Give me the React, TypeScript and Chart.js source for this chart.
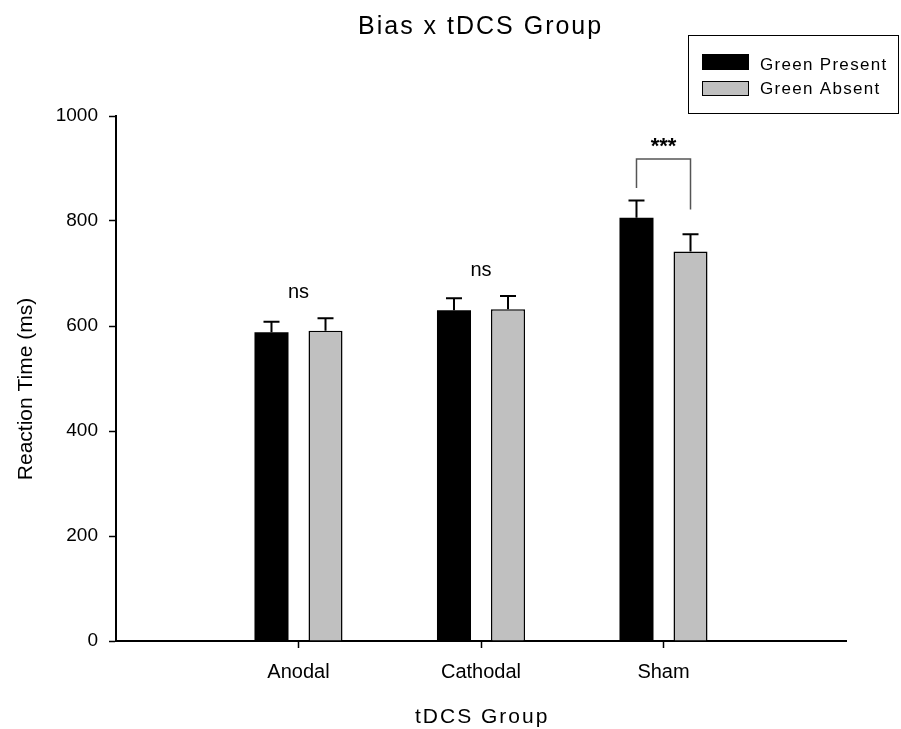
import React, { useEffect, useRef } from 'react';
import { Chart, registerables } from 'chart.js';

Chart.register(...registerables);

const categories = ['', 'Anodal', 'Cathodal', 'Sham', ''];
const seriesNames = ['Green Present', 'Green Absent'];
const greenPresent = [null, 588, 630, 806, null];
const greenAbsent = [null, 591, 632, 742, null];
const presentErr = [0, 20, 23, 33, 0];
const absentErr = [0, 24, 25, 33, 0];
const sigLabels = ['', 'ns', 'ns', '***', ''];
const sigLevels = [0, 653, 695, 930, 0];
const bracketIndex = 3;
const bracketLevels = [918, 863, 822]; // top, left foot, right foot

const FONT = '"Liberation Sans", Arial, sans-serif';
const BLACK = '#000000';
const GRAY = '#c0c0c0';

const overlay = {
  id: 'overlay',
  afterDatasetsDraw(chart: any) {
    const ctx = chart.ctx;
    const ys = chart.scales.y;
    const xs = chart.scales.x;
    const errs = [presentErr, absentErr];
    chart.data.datasets.forEach((ds: any, di: number) => {
      const meta = chart.getDatasetMeta(di);
      meta.data.forEach((el: any, i: number) => {
        const v = ds.data[i];
        if (v == null) return;
        const top = ys.getPixelForValue(v + errs[di][i]);
        ctx.save();
        ctx.strokeStyle = BLACK;
        ctx.lineWidth = 2;
        ctx.beginPath();
        ctx.moveTo(el.x, el.y);
        ctx.lineTo(el.x, top);
        ctx.moveTo(el.x - 8, top);
        ctx.lineTo(el.x + 8, top);
        ctx.stroke();
        ctx.restore();
      });
    });

    // bracket
    const lx = chart.getDatasetMeta(0).data[bracketIndex].x;
    const rx = chart.getDatasetMeta(1).data[bracketIndex].x;
    const by = ys.getPixelForValue(bracketLevels[0]);
    ctx.save();
    ctx.strokeStyle = '#555555';
    ctx.lineWidth = 1.5;
    ctx.beginPath();
    ctx.moveTo(lx, ys.getPixelForValue(bracketLevels[1]));
    ctx.lineTo(lx, by);
    ctx.lineTo(rx, by);
    ctx.lineTo(rx, ys.getPixelForValue(bracketLevels[2]));
    ctx.stroke();
    ctx.restore();

    // significance labels
    ctx.save();
    ctx.fillStyle = BLACK;
    ctx.textAlign = 'center';
    ctx.textBaseline = 'alphabetic';
    sigLabels.forEach((lab, i) => {
      if (!lab) return;
      ctx.font = (lab === '***' ? 'bold 22px ' : '20px ') + FONT;
      ctx.fillText(lab, xs.getPixelForValue(i), ys.getPixelForValue(sigLevels[i]));
    });
    ctx.restore();
  },
  afterDraw(chart: any) {
    const ctx = chart.ctx;
    ctx.save();
    ctx.fillStyle = BLACK;
    // title
    ctx.font = '25px ' + FONT;
    (ctx as any).letterSpacing = '2px';
    ctx.textAlign = 'left';
    ctx.textBaseline = 'alphabetic';
    ctx.fillText('Bias x tDCS Group', 358, 34);
    // x title
    ctx.font = '21px ' + FONT;
    (ctx as any).letterSpacing = '2px';
    ctx.fillText('tDCS Group', 415, 723);
    // y title
    (ctx as any).letterSpacing = '0px';
    ctx.save();
    ctx.translate(32, 389);
    ctx.rotate(-Math.PI / 2);
    ctx.textAlign = 'center';
    ctx.font = '21px ' + FONT;
    ctx.fillText('Reaction Time (ms)', 0, 0);
    ctx.restore();

    // legend
    ctx.strokeStyle = BLACK;
    ctx.lineWidth = 1;
    ctx.strokeRect(688.5, 35.5, 210, 78);
    ctx.fillStyle = BLACK;
    ctx.fillRect(702, 54, 47, 16);
    ctx.fillStyle = GRAY;
    ctx.fillRect(702, 81, 47, 15);
    ctx.strokeRect(702.5, 81.5, 46, 14);
    ctx.fillStyle = BLACK;
    ctx.font = '17px ' + FONT;
    (ctx as any).letterSpacing = '1.3px';
    ctx.fillText(seriesNames[0], 760, 70);
    ctx.fillText(seriesNames[1], 760, 94);
    (ctx as any).letterSpacing = '0px';
    ctx.restore();
  },
};

export default function App() {
  const ref = useRef<HTMLCanvasElement | null>(null);
  useEffect(() => {
    if (!ref.current) return;
    const chart = new Chart(ref.current, {
      type: 'bar',
      data: {
        labels: categories,
        datasets: [
          {
            label: seriesNames[0],
            data: greenPresent as any,
            backgroundColor: BLACK,
            borderColor: BLACK,
            borderWidth: 0,
          },
          {
            label: seriesNames[1],
            data: greenAbsent as any,
            backgroundColor: GRAY,
            borderColor: BLACK,
            borderWidth: 1.5,
          },
        ],
      },
      options: {
        animation: false,
        responsive: false,
        devicePixelRatio: 1,
        events: [],
        layout: { padding: { top: 116, right: 55, left: 0, bottom: 0 } },
        datasets: { bar: { categoryPercentage: 0.592, barPercentage: 0.63 } },
        plugins: { legend: { display: false }, tooltip: { enabled: false }, title: { display: false } },
        scales: {
          x: {
            offset: false,
            grid: {
              offset: false,
              drawOnChartArea: false,
              drawTicks: true,
              tickLength: 7,
              tickWidth: 1.5,
              tickColor: (c: any) => (c.index === 0 || c.index === categories.length - 1 ? 'rgba(0,0,0,0)' : BLACK),
            },
            border: { display: true, color: BLACK, width: 2 },
            ticks: {
              autoSkip: false,
              maxRotation: 0,
              padding: 12,
              color: BLACK,
              font: { family: FONT, size: 20 },
            },
            afterFit: (s: any) => { s.height = 88; },
          },
          y: {
            min: 0,
            max: 1000,
            grid: { drawOnChartArea: false, drawTicks: true, tickLength: 7, tickWidth: 1.5, tickColor: BLACK },
            border: { display: true, color: BLACK, width: 2 },
            ticks: {
              stepSize: 200,
              padding: 11,
              color: BLACK,
              font: { family: FONT, size: 19 },
              callback: (v: any) => String(v),
            },
            afterFit: (s: any) => { s.width = 116; },
          },
        },
      },
      plugins: [overlay],
    });
    return () => chart.destroy();
  }, []);
  return (
    <div style={{ position: 'absolute', left: 0, top: 0, width: 901, height: 729, background: '#fff' }}>
      <canvas ref={ref} width={901} height={729} style={{ display: 'block' }} />
    </div>
  );
}
